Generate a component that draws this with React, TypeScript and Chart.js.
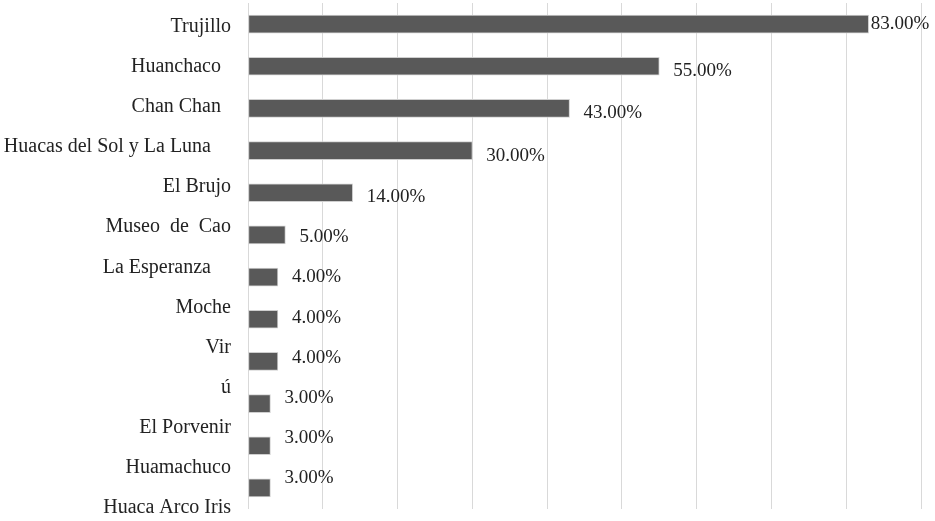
import React, { useEffect, useRef } from "react";
import { Chart, registerables } from "chart.js";

Chart.register(...registerables);

const barCategories = [
  "Trujillo",
  "Huanchaco",
  "Chan Chan",
  "Huacas del Sol y La Luna",
  "El Brujo",
  "Museo de Cao",
  "La Esperanza",
  "Moche",
  "Virú",
  "El Porvenir",
  "Huamachuco",
  "Huaca Arco Iris",
];

const barValues = [83, 55, 43, 30, 14, 5, 4, 4, 4, 3, 3, 3];

// Axis text exactly as it appears on the picture (the source split "Virú").
const axisLabels = [
  "Trujillo",
  "Huanchaco  ",
  "Chan Chan  ",
  "Huacas del Sol y La Luna    ",
  "El Brujo",
  "Museo  de  Cao",
  "La Esperanza    ",
  "Moche",
  "Vir",
  "ú",
  "El Porvenir",
  "Huamachuco",
  "Huaca Arco Iris",
];

const xTickMax = 90;
const xTickStep = 10;

const FONT_FAMILY = '"Liberation Serif", "Times New Roman", serif';
const TEXT_COLOR = "#222222";

const valueLabelPlugin = {
  id: "valueLabels",
  afterDatasetsDraw(chart: any) {
    const ctx = chart.ctx;
    const meta = chart.getDatasetMeta(0);
    const y2 = chart.scales.y2;
    ctx.save();
    ctx.font = `19px ${FONT_FAMILY}`;
    ctx.fillStyle = TEXT_COLOR;
    ctx.textAlign = "left";
    ctx.textBaseline = "middle";
    meta.data.forEach((bar: any, i: number) => {
      const text = barValues[i].toFixed(2) + "%";
      const w = ctx.measureText(text).width;
      let x = bar.x + 14;
      let y = Math.min(bar.y + 5, y2.getPixelForValue(i + 0.25));
      if (x + w > chart.width - 2) {
        x = bar.x + 2;
        y = bar.y;
      }
      ctx.fillText(text, x, y);
    });
    ctx.restore();
  },
};

export default function App() {
  const canvasRef = useRef<HTMLCanvasElement | null>(null);

  useEffect(() => {
    if (!canvasRef.current) return;
    const chart = new Chart(canvasRef.current, {
      type: "bar",
      data: {
        labels: barCategories,
        datasets: [
          {
            data: barValues,
            backgroundColor: "#595959",
            borderColor: "#cfcfcf",
            borderWidth: 1,
            borderSkipped: false,
            barThickness: 18,
            yAxisID: "y",
            xAxisID: "x",
          },
        ],
      },
      options: {
        indexAxis: "y",
        animation: false,
        responsive: true,
        maintainAspectRatio: false,
        layout: { padding: { left: 0, right: 14, top: 3, bottom: 12 } },
        plugins: {
          legend: { display: false },
          tooltip: { enabled: false },
          title: { display: false },
        },
        scales: {
          x: {
            type: "linear",
            min: 0,
            max: xTickMax,
            position: "bottom",
            ticks: { display: false, stepSize: xTickStep },
            grid: { color: "#d9d9d9", lineWidth: 1, drawTicks: false },
            border: { display: false },
          },
          y: {
            type: "category",
            display: false,
            offset: true,
          },
          y2: {
            type: "linear",
            position: "left",
            reverse: true,
            offset: false,
            beginAtZero: false,
            min: -0.587,
            max: 12.02,
            afterBuildTicks: (s: any) => {
              s.ticks = axisLabels.map((_, i) => ({ value: i }));
            },
            afterFit: (s: any) => {
              s.width = 248;
              s.paddingTop = 0;
              s.paddingBottom = 0;
            },
            grid: { display: false, drawTicks: false, offset: false },
            border: { display: false },
            ticks: {
              autoSkip: false,
              padding: 17,
              color: TEXT_COLOR,
              font: { family: FONT_FAMILY, size: 20 },
              callback: (v: any) => axisLabels[Math.round(Number(v))],
            },
          },
        },
      },
      plugins: [valueLabelPlugin],
    } as any);
    return () => chart.destroy();
  }, []);

  return (
    <div
      style={{
        position: "fixed",
        left: 0,
        top: 0,
        width: 935,
        height: 521,
        background: "#ffffff",
      }}
    >
      <canvas ref={canvasRef} />
    </div>
  );
}
